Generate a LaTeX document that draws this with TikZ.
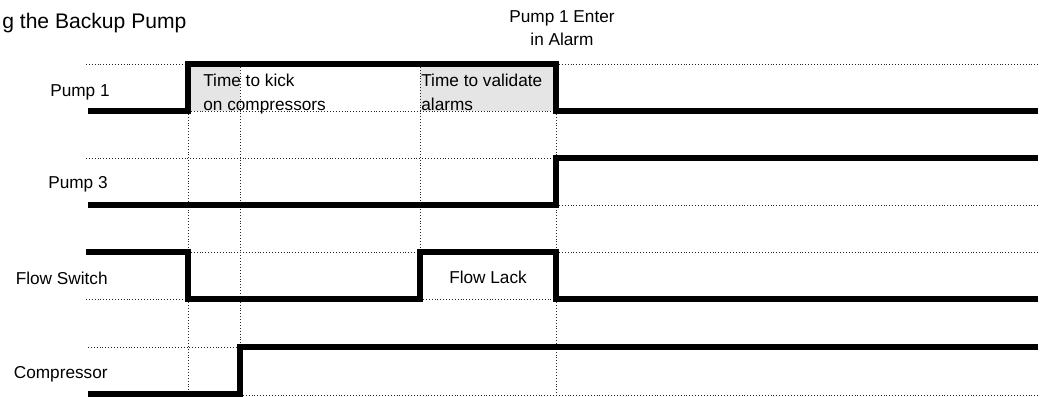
\documentclass[tikz,border=0pt]{standalone}
\usepackage{fontspec}
\setmainfont{Liberation Sans}
\usetikzlibrary{positioning}

\begin{document}
\begin{tikzpicture}[x=0.02cm,y=-0.02cm,
  wave/.style={line width=3.1pt,line join=miter},
  guide/.style={black!85,line width=0.55pt,dash pattern=on 0.55pt off 1.1pt},
  window/.style={fill=black!10,draw=none},
  lbl/.style={font=\fontsize{9.8}{13.5}\selectfont,inner sep=0pt}]
\useasboundingbox (0,0) rectangle (1050,396);

% shaded windows
\fill[window] (188,64) rectangle (240,111);
\fill[window] (420,64) rectangle (556,111);

% dotted guides
\draw[guide] (86,64) -- (188,64) (188,111) -- (556,111) (556,64) -- (1038,64);
\draw[guide] (86,158) -- (556,158) (556,205) -- (1038,205);
\draw[guide] (188,252) -- (420,252) (556,252) -- (1038,252) (86,299) -- (188,299) (420,299) -- (556,299);
\draw[guide] (88,347) -- (240,347) (240,395) -- (1038,395);
\draw[guide] (188,111) -- (188,396) (240,64) -- (240,347) (420,64) -- (420,252) (556,111) -- (556,396);

% signals
\draw[wave] (88,111) -- (188,111) -- (188,64) -- (556,64) -- (556,111) -- (1038,111);
\draw[wave] (88,205) -- (556,205) -- (556,158) -- (1038,158);
\draw[wave] (86,252) -- (188,252) -- (188,299) -- (420,299) -- (420,252) -- (556,252) -- (556,299) -- (1038,299);
\draw[wave] (88,394) -- (240,394) -- (240,347) -- (1038,347);

% texts
\node[inner sep=0pt,anchor=base west,font=\fontsize{12}{14}\selectfont] (title) at (2,28) {g the Backup Pump};
\node[lbl,align=center,anchor=base,font=\fontsize{9.8}{13}\selectfont] (alarm) at (562,45) {Pump 1 Enter\\in Alarm};
\node[lbl,anchor=base east] (pump1) at (110,96) {Pump 1};
\node[lbl,anchor=base east] (pump3) at (108,188) {Pump 3};
\node[lbl,anchor=base east] (flow) at (108,284) {Flow Switch};
\node[lbl,anchor=base east] (comp) at (108,378) {Compressor};
\node[lbl,align=left,anchor=base west] (kick) at (203,110) {Time to kick\\on compressors};
\node[lbl,align=left,anchor=base west] (valid) at (421,110) {Time to validate\\alarms};
\node[lbl,anchor=base] (lack) at (488,283) {Flow Lack};
\end{tikzpicture}
\end{document}
